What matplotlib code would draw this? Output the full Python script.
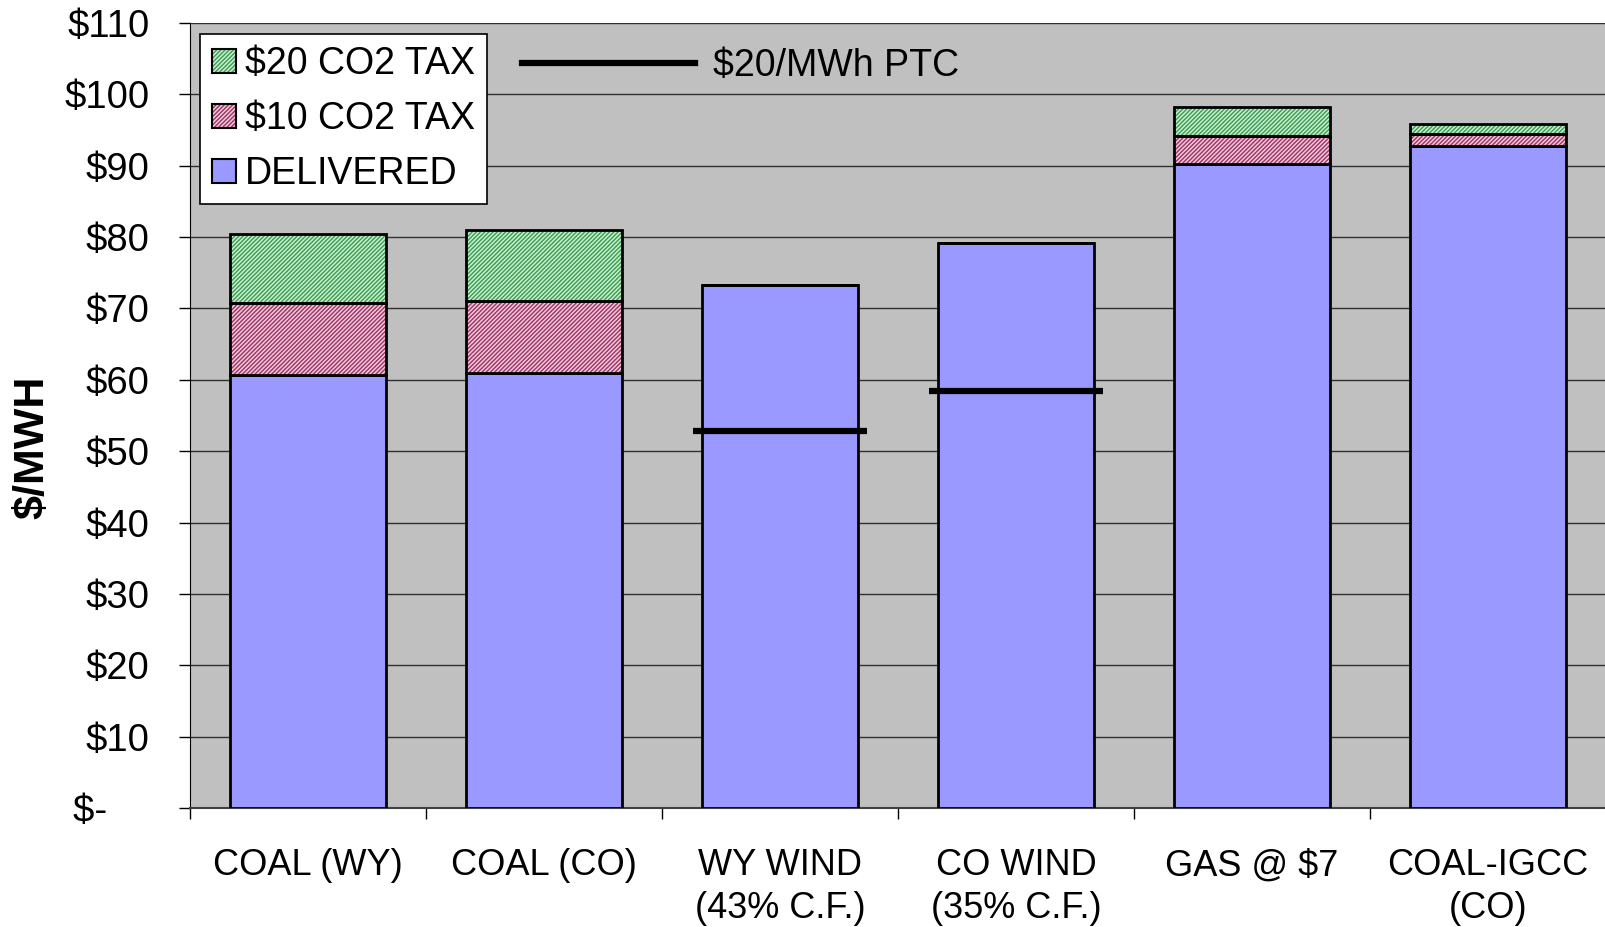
import matplotlib.pyplot as plt
from matplotlib.patches import Patch
from matplotlib.lines import Line2D
from matplotlib.legend_handler import HandlerTuple
import numpy as np

plt.rcParams['font.family'] = ['Liberation Sans', 'DejaVu Sans']
plt.rcParams['hatch.linewidth'] = 1.0

# Werte ($/MWh)
categories = ['COAL (WY)', 'COAL (CO)', 'WY WIND\n(43% C.F.)', 'CO WIND\n(35% C.F.)',
              'GAS @ $7', 'COAL-IGCC\n(CO)']
delivered = [60.7, 61.0, 73.3, 79.2, 90.2, 92.8]
tax10 = [10.0, 10.0, 0.0, 0.0, 3.9, 1.6]
tax20 = [9.8, 10.0, 0.0, 0.0, 4.1, 1.5]
ptc = [np.nan, np.nan, 52.8, 58.4, np.nan, np.nan]
yticks = list(range(0, 111, 10))
# Excel-Buchhaltungsformat: "$-" steht weiter links
ytick_labels = ['$-    '] + ['$%d' % v for v in yticks[1:]]

blue = '#9999FF'
green_bg, green_line = '#c8f0c8', '#3a9a5a'
pink_bg, pink_line = '#f2c8d8', '#993366'
HATCH = '////////'

fig = plt.figure(figsize=(16.06, 9.27), dpi=100)
ax = fig.add_axes([190 / 1606, 1 - 808 / 927, 1416 / 1606, 785 / 927])
ax.set_facecolor('#C0C0C0')

x = np.arange(len(categories))
w = 0.66
bottom10 = np.array(delivered)
bottom20 = bottom10 + np.array(tax10)

ax.bar(x, delivered, w, color=blue, edgecolor='black', linewidth=2.0, zorder=3)
# schraffierte Segmente: erst Muster, dann Rahmen
ax.bar(x, tax10, w, bottom=bottom10, color=pink_bg, edgecolor=pink_line, hatch=HATCH,
       linewidth=0, zorder=3)
ax.bar(x, tax10, w, bottom=bottom10, fill=False, edgecolor='black', linewidth=2.0, zorder=4)
ax.bar(x, tax20, w, bottom=bottom20, color=green_bg, edgecolor=green_line, hatch=HATCH,
       linewidth=0, zorder=3)
ax.bar(x, tax20, w, bottom=bottom20, fill=False, edgecolor='black', linewidth=2.0, zorder=4)

# PTC-Linie
for xi, v in zip(x, ptc):
    if not np.isnan(v):
        ax.plot([xi - 0.37, xi + 0.37], [v, v], color='black', linewidth=4.5,
                solid_capstyle='butt', zorder=5)

ax.set_xlim(-0.5, 5.5)
ax.set_ylim(0, 110)
ax.set_yticks(yticks)
ax.set_yticklabels(ytick_labels)
ax.yaxis.grid(True, color='#303030', linewidth=1.0, zorder=1)
ax.set_axisbelow(True)

ax.set_xticks(x)
ax.set_xticklabels(categories, linespacing=1.3)
ax.set_xticks(np.arange(-0.5, 5.6, 1), minor=True)
ax.tick_params(axis='x', which='major', length=0, pad=29, labelsize=26)
ax.tick_params(axis='x', which='minor', length=8, width=1, direction='out')
ax.tick_params(axis='y', length=8, width=1, direction='out', labelsize=27.5, pad=21)

for s in ['top', 'right']:
    ax.spines[s].set_visible(False)
ax.spines['left'].set_color('black')
ax.spines['bottom'].set_color('#404040')
ax.spines['bottom'].set_linewidth(1.5)

ax.set_ylabel('$/MWH', fontsize=31, fontweight='bold')
ax.yaxis.set_label_coords(-0.097, 0.46)

# Legende
h20 = (Patch(facecolor=green_bg, edgecolor=green_line, hatch=HATCH, linewidth=0),
       Patch(fill=False, edgecolor='black', linewidth=1.5))
h10 = (Patch(facecolor=pink_bg, edgecolor=pink_line, hatch=HATCH, linewidth=0),
       Patch(fill=False, edgecolor='black', linewidth=1.5))
hdel = Patch(facecolor=blue, edgecolor='black', linewidth=1.5)
leg = ax.legend([h20, h10, hdel], ['$20 CO2 TAX', '$10 CO2 TAX', 'DELIVERED'],
                handler_map={tuple: HandlerTuple(ndivide=1, pad=0)},
                loc='upper left', bbox_to_anchor=(0.007, 0.986), borderaxespad=0,
                fontsize=27, frameon=True, fancybox=False, edgecolor='black',
                framealpha=1, handlelength=0.62, handleheight=0.62, handletextpad=0.25,
                labelspacing=0.5, borderpad=0.33)
leg.get_frame().set_linewidth(1.2)
leg.set_zorder(10)
ax.add_artist(leg)

leg2 = ax.legend([Line2D([], [], color='black', linewidth=4.5)], ['$20/MWh PTC'],
                 loc='center left', bbox_to_anchor=(0.2345, 0.945), borderaxespad=0,
                 borderpad=0, frameon=False, fontsize=27, handlelength=4.6,
                 handletextpad=0.5)

fig.savefig('out.png', dpi=100)
